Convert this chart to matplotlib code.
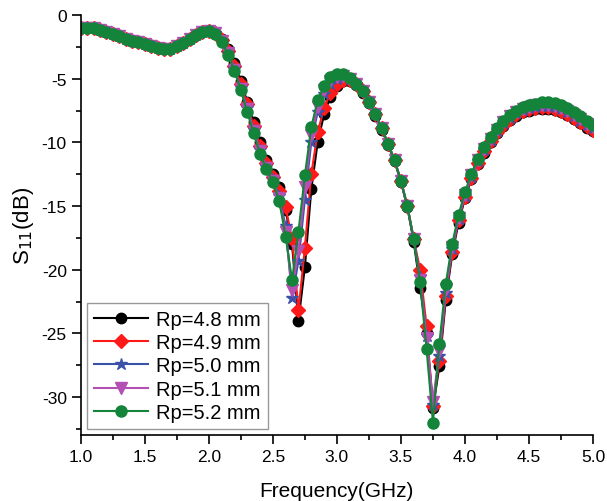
import numpy as np
import matplotlib
matplotlib.use('Agg')
import matplotlib.pyplot as plt
from matplotlib.ticker import MultipleLocator

plt.rcParams['font.family'] = ['Liberation Sans', 'DejaVu Sans']
plt.rcParams['axes.unicode_minus'] = False

# frequency grid (GHz), 0.05 GHz step
freq = np.round(np.arange(1.0, 5.0001, 0.05), 2)

s11_48 = [-1.00, -1.00, -1.05, -1.15, -1.30, -1.45, -1.65, -1.85, -2.00, -2.15,
          -2.30, -2.45, -2.60, -2.70, -2.65, -2.45, -2.20, -1.90, -1.60, -1.35,
          -1.25, -1.35, -1.85, -2.70, -3.80, -5.20, -6.80, -8.40, -10.00, -11.40,
          -12.50, -13.50, -15.30, -18.00, -24.00, -19.80, -13.70, -10.00, -7.80, -6.40,
          -5.60, -5.20, -5.20, -5.50, -6.10, -6.90, -7.90, -9.00, -10.20, -11.50,
          -13.10, -15.10, -17.80, -21.40, -25.00, -30.90, -27.60, -22.40, -18.80, -16.30,
          -14.40, -12.90, -11.70, -10.80, -10.00, -9.30, -8.70, -8.25, -7.90, -7.65,
          -7.50, -7.40, -7.35, -7.35, -7.45, -7.60, -7.85, -8.15, -8.50, -8.85,
          -9.10]

s11_49 = [-1.00, -1.00, -1.05, -1.15, -1.30, -1.45, -1.65, -1.85, -2.00, -2.15,
          -2.30, -2.45, -2.60, -2.70, -2.65, -2.45, -2.20, -1.90, -1.60, -1.35,
          -1.25, -1.40, -1.95, -2.85, -4.00, -5.40, -7.00, -8.70, -10.30, -11.60,
          -12.70, -13.80, -15.10, -17.60, -23.20, -18.30, -12.50, -9.20, -7.30, -6.10,
          -5.40, -5.10, -5.10, -5.40, -6.00, -6.80, -7.80, -8.90, -10.10, -11.40,
          -13.00, -15.00, -17.60, -20.00, -24.40, -30.70, -27.20, -22.10, -18.60, -16.10,
          -14.30, -12.80, -11.60, -10.70, -9.90, -9.20, -8.60, -8.15, -7.80, -7.55,
          -7.40, -7.30, -7.25, -7.25, -7.35, -7.50, -7.75, -8.05, -8.40, -8.75,
          -9.00]

s11_50 = [-1.00, -1.00, -1.05, -1.15, -1.30, -1.45, -1.65, -1.85, -2.00, -2.15,
          -2.30, -2.45, -2.60, -2.70, -2.65, -2.45, -2.20, -1.90, -1.60, -1.35,
          -1.25, -1.40, -2.00, -2.95, -4.20, -5.70, -7.30, -9.00, -10.60, -11.90,
          -12.90, -14.20, -16.60, -22.20, -19.30, -14.50, -10.00, -7.60, -6.20, -5.40,
          -5.00, -4.90, -5.05, -5.40, -6.00, -6.80, -7.80, -8.90, -10.10, -11.40,
          -13.00, -15.00, -17.60, -20.60, -25.20, -30.60, -26.80, -21.80, -18.40, -16.00,
          -14.20, -12.70, -11.50, -10.60, -9.80, -9.10, -8.50, -8.05, -7.70, -7.45,
          -7.30, -7.20, -7.15, -7.15, -7.25, -7.40, -7.65, -7.95, -8.30, -8.65,
          -8.90]

s11_51 = [-1.00, -1.00, -1.05, -1.15, -1.30, -1.45, -1.65, -1.85, -2.00, -2.15,
          -2.30, -2.45, -2.60, -2.70, -2.65, -2.45, -2.20, -1.90, -1.60, -1.35,
          -1.25, -1.40, -2.05, -3.00, -4.30, -5.80, -7.40, -9.10, -10.70, -12.00,
          -13.00, -14.40, -17.00, -21.60, -18.50, -13.50, -9.40, -7.20, -5.90, -5.20,
          -4.85, -4.80, -5.00, -5.40, -6.00, -6.80, -7.80, -8.90, -10.10, -11.40,
          -13.00, -15.00, -17.60, -20.80, -25.40, -30.40, -26.40, -21.50, -18.20, -15.90,
          -14.10, -12.60, -11.40, -10.50, -9.70, -9.00, -8.40, -7.95, -7.60, -7.35,
          -7.20, -7.10, -7.05, -7.05, -7.15, -7.30, -7.55, -7.85, -8.20, -8.55,
          -8.80]

s11_52 = [-1.00, -1.00, -1.05, -1.15, -1.30, -1.45, -1.65, -1.85, -2.00, -2.15,
          -2.30, -2.45, -2.60, -2.70, -2.65, -2.45, -2.20, -1.90, -1.60, -1.35,
          -1.25, -1.45, -2.10, -3.10, -4.40, -5.90, -7.60, -9.30, -10.90, -12.10,
          -13.10, -14.60, -17.40, -20.80, -17.00, -12.60, -8.80, -6.70, -5.60, -4.90,
          -4.60, -4.65, -4.95, -5.40, -6.00, -6.80, -7.80, -8.90, -10.10, -11.40,
          -13.00, -15.00, -17.60, -21.00, -26.20, -32.00, -25.80, -21.10, -18.00, -15.70,
          -13.90, -12.50, -11.30, -10.40, -9.60, -8.90, -8.30, -7.85, -7.50, -7.25,
          -7.05, -6.95, -6.85, -6.85, -6.90, -7.05, -7.30, -7.60, -7.95, -8.30,
          -8.60]

labels = ['Rp=4.8 mm', 'Rp=4.9 mm', 'Rp=5.0 mm', 'Rp=5.1 mm', 'Rp=5.2 mm']
series = [s11_48, s11_49, s11_50, s11_51, s11_52]
colors = ['#000000', '#ff1a1a', '#3a52a8', '#b44fb4', '#13843a']
markers = ['o', 'D', '*', 'v', 'o']
msizes = [7.5, 7, 9, 8, 8]

fig = plt.figure(figsize=(6.07, 5.02), dpi=100)
ax = fig.add_axes([0.133, 0.131, 0.844, 0.837])

for y, lab, c, m, ms in zip(series, labels, colors, markers, msizes):
    ax.plot(freq, y, color=c, marker=m, markersize=ms, markeredgecolor=c,
            linewidth=1.5, label=lab)

ax.set_xlim(1.0, 5.0)
ax.set_ylim(-33, 0)
ax.xaxis.set_major_locator(MultipleLocator(0.5))
ax.xaxis.set_minor_locator(MultipleLocator(0.25))
ax.yaxis.set_major_locator(MultipleLocator(5))
ax.yaxis.set_minor_locator(MultipleLocator(2.5))
ax.tick_params(which='major', direction='out', length=6.5, width=1.2, labelsize=12.5)
ax.tick_params(which='minor', direction='out', length=3.5, width=1.2)
ax.spines['top'].set_visible(False)
ax.spines['right'].set_visible(False)
ax.spines['left'].set_linewidth(1.2)
ax.spines['bottom'].set_linewidth(1.2)

ax.set_xlabel('Frequency(GHz)', fontsize=15, labelpad=12)
ax.set_ylabel('S$_{11}$(dB)', fontsize=16, labelpad=4)

leg = ax.legend(loc='lower left', bbox_to_anchor=(0.012, 0.014), fontsize=14.5,
                frameon=True, fancybox=False, edgecolor='#808080',
                handlelength=2.7, labelspacing=0.22, borderpad=0.35,
                handletextpad=0.4, borderaxespad=0)
leg.get_frame().set_linewidth(1.0)

plt.savefig('out.png', dpi=100)
